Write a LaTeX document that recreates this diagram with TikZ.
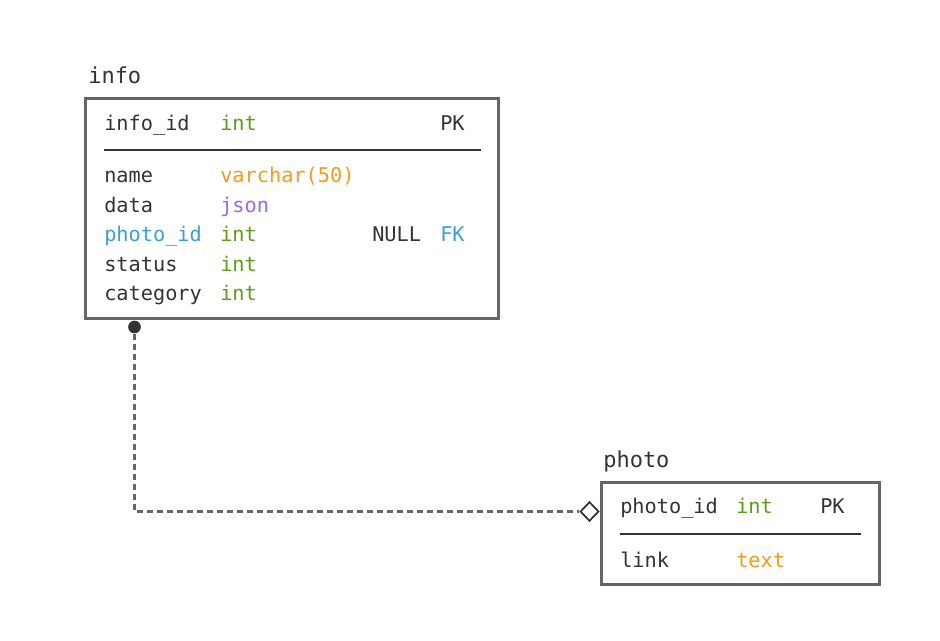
\documentclass[tikz,border=0pt]{standalone}
\usepackage{fontspec}
\setmonofont{DejaVu Sans Mono}
\usetikzlibrary{shapes.geometric}
\definecolor{txt}{HTML}{333333}
\definecolor{frame}{HTML}{666666}
\definecolor{tgreen}{HTML}{5A9E1A}
\definecolor{torange}{HTML}{F29B1D}
\definecolor{tpurple}{HTML}{9A6BDD}
\definecolor{tblue}{HTML}{3E9FD6}
\tikzset{
  cell/.style={anchor=base west, inner sep=0pt, text=txt, font=\ttfamily\fontsize{15.2}{18}\selectfont},
  title/.style={cell, font=\ttfamily\fontsize{16.5}{19}\selectfont},
  tablebox/.style={draw=frame, line width=2.25pt, fill=white},
  sep/.style={draw=txt, line width=1.5pt},
  link/.style={draw=frame, line width=1.8pt, dash pattern=on 4.5pt off 3pt},
}
\begin{document}
\begin{tikzpicture}[x=0.75pt, y=-0.75pt]
\useasboundingbox (0,0) rectangle (940,641);
% info table
\node[title] (infot) at (88,84) {info};
\draw[tablebox] (85.5,98.5) rectangle (498.5,318.5);
\node[cell] (i1a) at (104,131) {info\_id};
\node[cell, text=tgreen] (i1b) at (220,131) {int};
\node[cell] (i1c) at (440,131) {PK};
\coordinate (isa) at (104,150);
\coordinate (isb) at (481,150);
\draw[sep] (isa) -- (isb);
\node[cell] (i2a) at (104,183) {name};
\node[cell, text=torange] (i2b) at (220,183) {varchar(50)};
\node[cell] (i3a) at (104,212.5) {data};
\node[cell, text=tpurple] (i3b) at (220,212.5) {json};
\node[cell, text=tblue] (i4a) at (104,242) {photo\_id};
\node[cell, text=tgreen] (i4b) at (220,242) {int};
\node[cell] (i4c) at (372,242) {NULL};
\node[cell, text=tblue] (i4d) at (440,242) {FK};
\node[cell] (i5a) at (104,271.5) {status};
\node[cell, text=tgreen] (i5b) at (220,271.5) {int};
\node[cell] (i6a) at (104,301) {category};
\node[cell, text=tgreen] (i6b) at (220,301) {int};
% photo table
\node[title] (photot) at (603,468) {photo};
\draw[tablebox] (601.5,482.5) rectangle (879.5,584.5);
\node[cell] (p1a) at (620,514) {photo\_id};
\node[cell, text=tgreen] (p1b) at (736,514) {int};
\node[cell] (p1c) at (820,514) {PK};
\coordinate (psa) at (620,534);
\coordinate (psb) at (861,534);
\draw[sep] (psa) -- (psb);
\node[cell] (p2a) at (620,567.5) {link};
\node[cell, text=torange] (p2b) at (736,567.5) {text};
% connector
\node[circle, fill=txt, inner sep=0pt, minimum size=9.5pt] (dot) at (134.5,327) {};
\node[diamond, draw=txt, line width=1.3pt, fill=white, inner sep=0pt, minimum width=14pt, minimum height=14.5pt] (dia) at (589.5,511.5) {};
\coordinate (corner) at (134.5,511.5);
\draw[link] (dot.south) -- (corner) -- (dia.west);
\end{tikzpicture}
\end{document}
